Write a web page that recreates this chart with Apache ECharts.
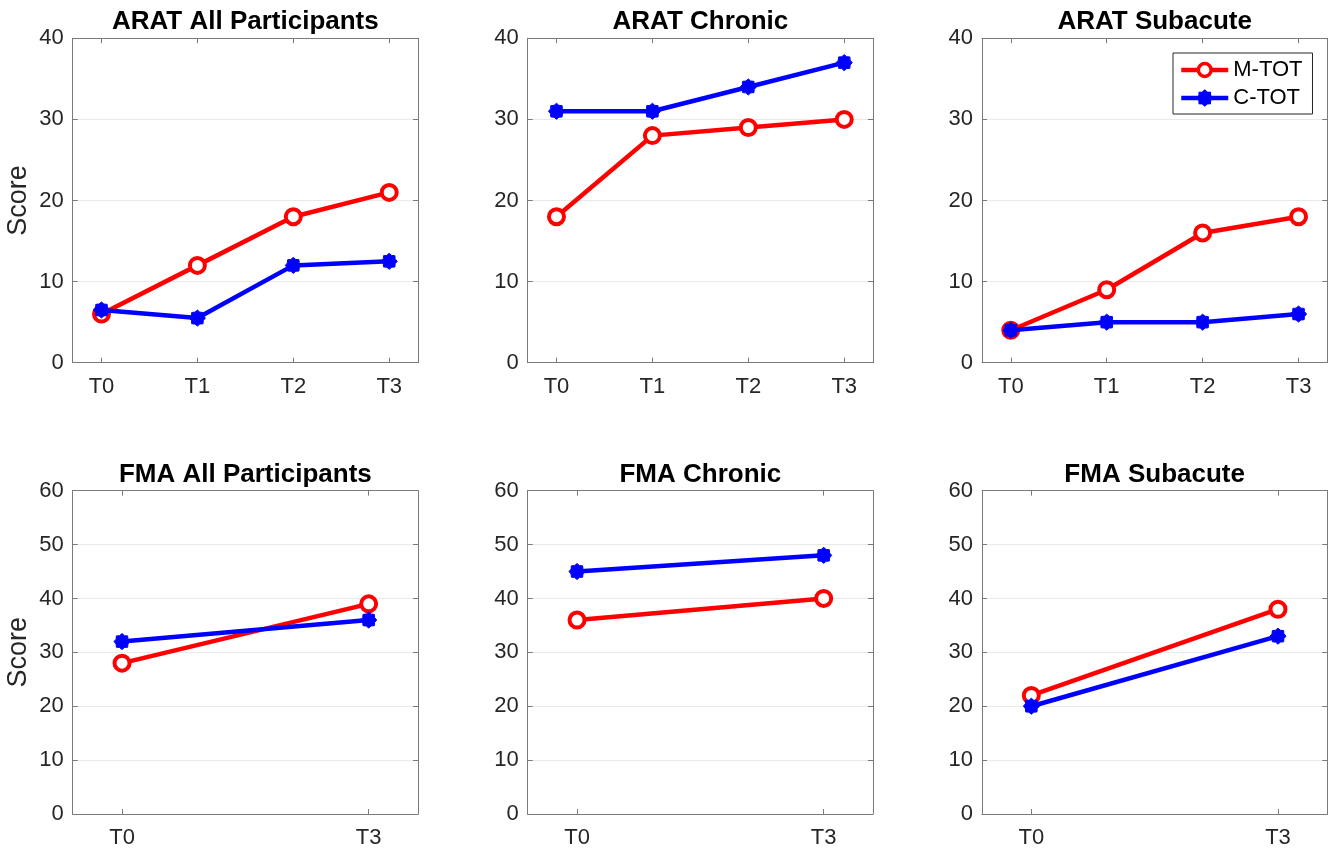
<!DOCTYPE html>
<html><head><meta charset="utf-8">
<script src="https://cdn.jsdelivr.net/npm/echarts@6/dist/echarts.min.js"></script>
<style>html,body{margin:0;padding:0;background:#fff}#c{width:1333px;height:849px}</style>
</head><body><div id="c"></div>
<script>
// ---- data ----
const aratCategories = ['T0', 'T1', 'T2', 'T3'];
const fmaCategories = ['T0', 'T3'];
const aratTicks = [0, 10, 20, 30, 40];
const fmaTicks = [0, 10, 20, 30, 40, 50, 60];
const seriesNames = ['M-TOT', 'C-TOT'];

const aratAllM = [6, 12, 18, 21];
const aratAllC = [6.5, 5.5, 12, 12.5];
const aratChronicM = [18, 28, 29, 30];
const aratChronicC = [31, 31, 34, 37];
const aratSubacuteM = [4, 9, 16, 18];
const aratSubacuteC = [4, 5, 5, 6];
const fmaAllM = [28, 39];
const fmaAllC = [32, 36];
const fmaChronicM = [36, 40];
const fmaChronicC = [45, 48];
const fmaSubacuteM = [22, 38];
const fmaSubacuteC = [20, 33];

const panelTitles = ['ARAT All Participants', 'ARAT Chronic', 'ARAT Subacute',
                     'FMA All Participants', 'FMA Chronic', 'FMA Subacute'];

// ---- layout / style ----
const FONT = '"Liberation Sans", Arial, Helvetica, sans-serif';
const AX = '#7a7a7a';
const TXT = '#262626';
const RED = '#ff0000';
const BLUE = '#0000ff';
const gridLeft = [72.7, 527.7, 982];
const gridTop = [38.3, 490.7];
const gridW = 345.3, gridH = 324.4;

const panels = [
  { cats: aratCategories, ticks: aratTicks, m: aratAllM, c: aratAllC, pad: 0.3, score: true },
  { cats: aratCategories, ticks: aratTicks, m: aratChronicM, c: aratChronicC, pad: 0.3, score: false },
  { cats: aratCategories, ticks: aratTicks, m: aratSubacuteM, c: aratSubacuteC, pad: 0.3, score: false },
  { cats: fmaCategories, ticks: fmaTicks, m: fmaAllM, c: fmaAllC, pad: 0.2, score: true },
  { cats: fmaCategories, ticks: fmaTicks, m: fmaChronicM, c: fmaChronicC, pad: 0.2, score: false },
  { cats: fmaCategories, ticks: fmaTicks, m: fmaSubacuteM, c: fmaSubacuteC, pad: 0.2, score: false }
];
panels.forEach((p, i) => { p.title = panelTitles[i]; });

function starPath(n, r1, r2) {
  let d = '';
  for (let k = 0; k < 2 * n; k++) {
    const a = Math.PI * k / n - Math.PI / 2;
    const r = k % 2 ? r2 : r1;
    d += (k ? 'L' : 'M') + (r * Math.cos(a)).toFixed(3) + ' ' + (r * Math.sin(a)).toFixed(3) + ' ';
  }
  return 'path://' + d + 'Z';
}
const STAR = starPath(8, 1, 0.8);

const grids = [], xAxes = [], yAxes = [], series = [], titles = [];
panels.forEach((p, i) => {
  const left = gridLeft[i % 3], top = gridTop[Math.floor(i / 3)];
  grids.push({ left: left, top: top, width: gridW, height: gridH, containLabel: false });
  const idx = p.cats.map((_, k) => k);
  const xBase = {
    gridIndex: i, type: 'value', min: -p.pad, max: p.cats.length - 1 + p.pad,
    axisLine: { show: true, onZero: false, lineStyle: { color: AX, width: 1 } },
    axisTick: { show: true, inside: true, length: 5, customValues: idx, lineStyle: { color: AX } },
    splitLine: { show: false }
  };
  xAxes.push(Object.assign({}, xBase, {
    position: 'bottom',
    axisLabel: { show: true, customValues: idx, formatter: v => p.cats[Math.round(v)],
                 fontSize: 22, color: TXT, fontFamily: FONT, margin: 13 }
  }));
  xAxes.push(Object.assign({}, xBase, { position: 'top', axisLabel: { show: false } }));
  const yBase = {
    gridIndex: i, type: 'value', min: p.ticks[0], max: p.ticks[p.ticks.length - 1],
    interval: p.ticks[1] - p.ticks[0],
    axisLine: { show: true, onZero: false, lineStyle: { color: AX, width: 1 } },
    axisTick: { show: true, inside: true, length: 5, lineStyle: { color: AX } }
  };
  yAxes.push(Object.assign({}, yBase, {
    position: 'left',
    axisLabel: { show: true, fontSize: 22, color: TXT, fontFamily: FONT, margin: 9 },
    splitLine: { show: true, lineStyle: { color: '#e9e9e9', width: 1 } },
    name: p.score ? 'Score' : '', nameLocation: 'middle', nameGap: 41,
    nameTextStyle: { fontSize: 27, color: TXT, fontFamily: FONT }
  }));
  yAxes.push(Object.assign({}, yBase, {
    position: 'right', axisLabel: { show: false }, splitLine: { show: false }
  }));
  series.push({
    type: 'line', name: seriesNames[0], xAxisIndex: 2 * i, yAxisIndex: 2 * i,
    data: p.m.map((v, k) => [k, v]),
    symbol: 'circle', symbolSize: 15, showAllSymbol: true,
    lineStyle: { color: RED, width: 4.5 },
    itemStyle: { color: '#ffffff', borderColor: RED, borderWidth: 4 },
    emphasis: { disabled: true }, z: 3
  });
  series.push({
    type: 'line', name: seriesNames[1], xAxisIndex: 2 * i, yAxisIndex: 2 * i,
    data: p.c.map((v, k) => [k, v]),
    symbol: STAR, symbolSize: 16, showAllSymbol: true,
    lineStyle: { color: BLUE, width: 4.5 },
    itemStyle: { color: BLUE, borderColor: BLUE, borderWidth: 1 },
    emphasis: { disabled: true }, z: 4
  });
  titles.push({
    text: p.title, left: left + gridW / 2, top: top - 29, textAlign: 'center', padding: 0,
    textStyle: { fontSize: 26, fontWeight: 'bold', color: '#000', fontFamily: FONT }
  });
});

const chart = echarts.init(document.getElementById('c'), null, { renderer: 'canvas' });
chart.setOption({
  animation: false,
  backgroundColor: '#ffffff',
  title: titles,
  grid: grids,
  xAxis: xAxes,
  yAxis: yAxes,
  legend: {
    data: seriesNames, orient: 'vertical', left: 1173, top: 53,
    padding: [6, 10, 5, 6], itemWidth: 47, itemHeight: 16, itemGap: 6,
    textStyle: { fontSize: 22, color: '#000', fontFamily: FONT },
    lineStyle: { width: 4.5 },
    itemStyle: { borderWidth: 3.5 },
    borderColor: '#262626', borderWidth: 1, borderRadius: 0, backgroundColor: '#ffffff',
    selectedMode: false
  },
  series: series
});
</script></body></html>
